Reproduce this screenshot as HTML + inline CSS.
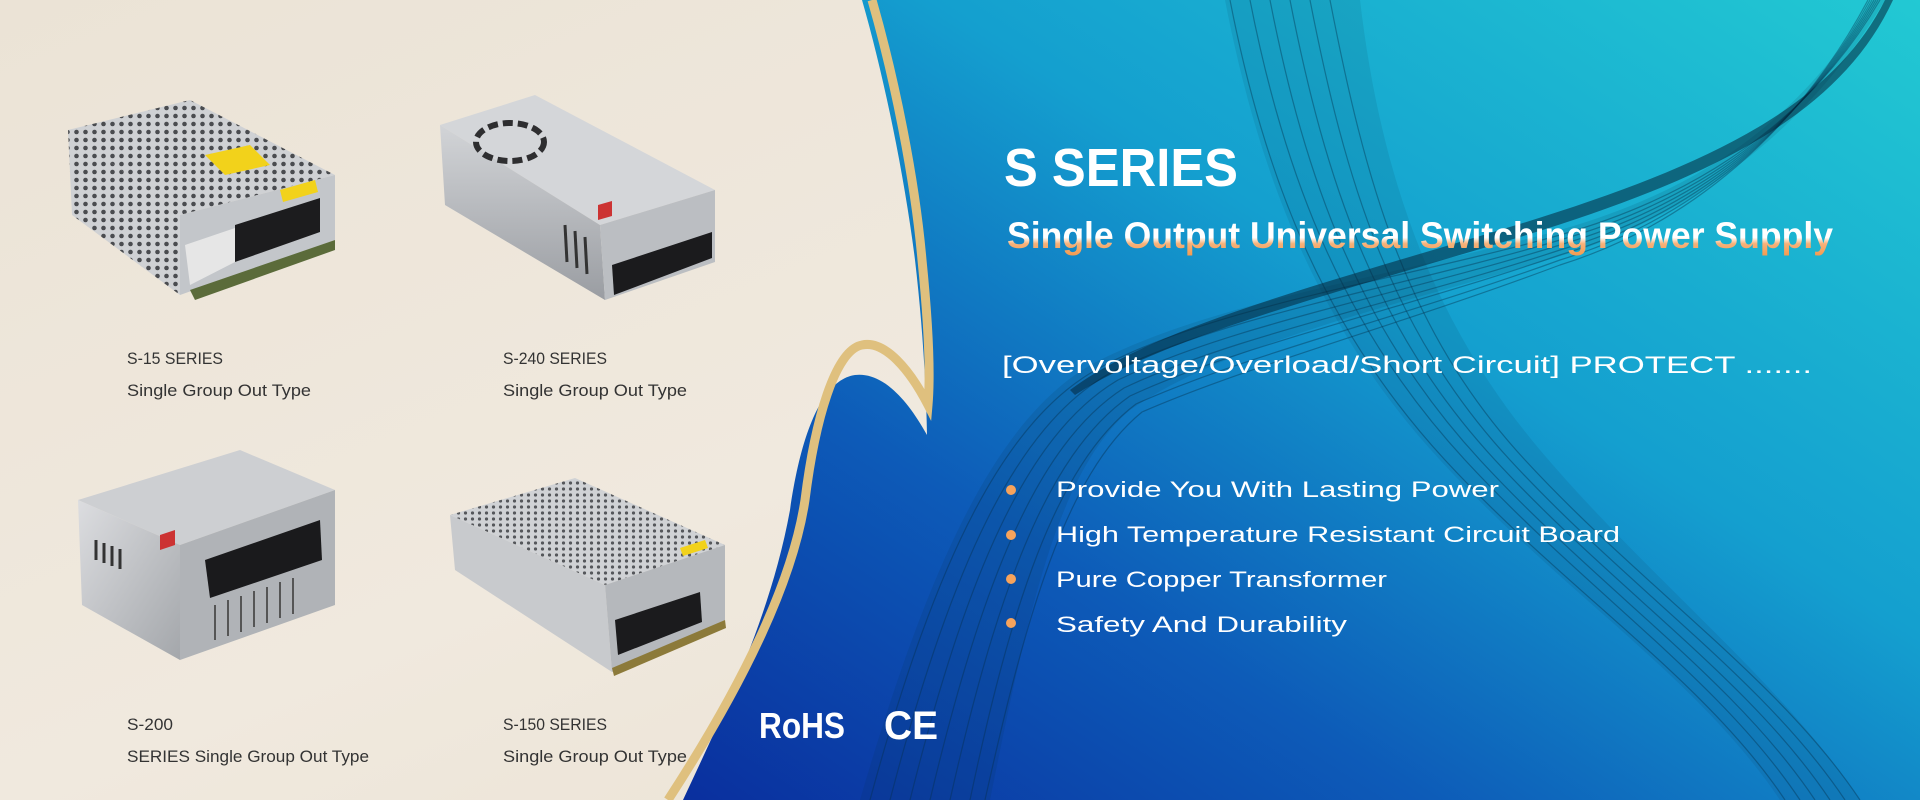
<!DOCTYPE html>
<html><head><meta charset="utf-8"><style>
html,body{margin:0;padding:0;width:1920px;height:800px;overflow:hidden;background:#ece4d6}
svg{display:block}
</style></head><body>
<svg width="1920" height="800" viewBox="0 0 1920 800" xmlns="http://www.w3.org/2000/svg">
<defs>
<linearGradient id="cream" x1="0" y1="0" x2="1" y2="1">
<stop offset="0" stop-color="#ebe3d6"/><stop offset="0.5" stop-color="#f0e9de"/><stop offset="1" stop-color="#e8dfcf"/>
</linearGradient>
<linearGradient id="blue" x1="0" y1="1" x2="1" y2="0">
<stop offset="0" stop-color="#0a2f9e"/><stop offset="0.3" stop-color="#0d5bb8"/><stop offset="0.6" stop-color="#149fcf"/><stop offset="1" stop-color="#22c9d3"/>
</linearGradient>
<linearGradient id="sub" x1="0" y1="0" x2="0" y2="1">
<stop offset="0" stop-color="#ffffff"/><stop offset="0.55" stop-color="#ffffff"/><stop offset="0.7" stop-color="#f7b27a"/><stop offset="1" stop-color="#f39a4e"/>
</linearGradient>
<linearGradient id="metal" x1="0" y1="0" x2="1" y2="1">
<stop offset="0" stop-color="#dcdde0"/><stop offset="1" stop-color="#a4a7ab"/>
</linearGradient>
<linearGradient id="metal2" x1="0" y1="0" x2="0" y2="1">
<stop offset="0" stop-color="#d2d4d7"/><stop offset="1" stop-color="#9a9da2"/>
</linearGradient>
<pattern id="holes" width="9" height="8" patternUnits="userSpaceOnUse">
<rect width="9" height="8" fill="#cfd1d4"/><circle cx="4.5" cy="4" r="2.3" fill="#4a4c50"/>
</pattern>
<pattern id="holes2" width="7" height="6" patternUnits="userSpaceOnUse">
<rect width="7" height="6" fill="#d0d2d5"/><circle cx="3.5" cy="3" r="1.6" fill="#55575b"/>
</pattern>
</defs>

<rect width="1920" height="800" fill="url(#cream)"/>

<!-- blue region -->
<path d="M862,0 C885,80 905,180 915,260 C922,320 926,380 927,435 C905,395 880,372 855,375 C820,380 800,440 790,510 C770,620 720,720 683,800 L1920,800 L1920,0 Z" fill="url(#blue)"/>

<!-- wave bands -->
<path d="M1873,0 C1800,120 1700,190 1560,230 C1400,275 1220,300 1100,360 C1000,410 930,560 860,800 L990,800 C1030,600 1060,470 1130,410 C1230,340 1420,300 1580,250 C1720,200 1820,110 1885,0 Z" fill="#06304a" fill-opacity="0.12"/>
<path d="M1225,0 C1260,180 1320,330 1440,460 C1560,590 1700,680 1780,800 L1860,800 C1780,680 1650,580 1540,450 C1430,320 1380,170 1360,0 Z" fill="#06304a" fill-opacity="0.1"/>
<g fill="none" stroke="#06304a" stroke-opacity="0.4" stroke-width="1.2">
<path d="M1880,0 C1810,120 1700,195 1560,235 C1400,280 1220,305 1105,365 C1005,415 935,560 870,800"/>
<path d="M1878,0 C1808,122 1698,200 1560,240 C1400,288 1225,315 1112,372 C1015,425 950,570 890,800"/>
<path d="M1876,0 C1806,124 1696,205 1560,245 C1400,295 1230,325 1118,380 C1025,435 965,580 910,800"/>
<path d="M1874,0 C1804,126 1694,210 1560,250 C1400,303 1235,335 1124,388 C1035,445 980,590 930,800"/>
<path d="M1872,0 C1802,128 1692,215 1560,255 C1400,310 1240,345 1130,396 C1045,455 995,600 950,800"/>
<path d="M1870,0 C1800,130 1690,220 1560,260 C1400,318 1245,355 1136,404 C1055,465 1010,610 970,800"/>
<path d="M1868,0 C1798,132 1688,225 1560,265 C1400,325 1250,365 1142,412 C1065,475 1025,620 985,800"/>
<path d="M1230,0 C1265,180 1325,330 1445,460 C1565,590 1705,680 1785,800"/>
<path d="M1250,0 C1285,180 1345,330 1465,460 C1585,590 1720,680 1800,800"/>
<path d="M1270,0 C1305,180 1360,330 1480,460 C1600,590 1735,680 1815,800"/>
<path d="M1290,0 C1325,180 1375,330 1495,460 C1615,590 1750,680 1830,800"/>
<path d="M1310,0 C1345,180 1390,330 1510,460 C1630,590 1765,680 1845,800"/>
<path d="M1330,0 C1365,180 1405,330 1525,460 C1645,590 1780,680 1860,800"/>
</g>
<path d="M1885,0 C1830,110 1700,170 1500,230 C1300,290 1150,330 1070,390 L1075,395 C1160,340 1310,300 1510,240 C1710,180 1840,115 1893,0 Z" fill="#04263a" fill-opacity="0.55"/>

<!-- gold ribbon -->
<path d="M872,0 C895,80 915,180 922,260 C928,320 931,370 928,405 C910,370 885,340 862,345 C835,350 815,420 805,500 C790,600 720,720 668,800" fill="none" stroke="#dfc07e" stroke-width="9"/>

<!-- Right texts -->
<text x="1004" y="186" font-family="Liberation Sans, sans-serif" font-weight="bold" font-size="54" fill="#fff" textLength="234" lengthAdjust="spacingAndGlyphs">S SERIES</text>
<text x="1007" y="248" font-family="Liberation Sans, sans-serif" font-weight="bold" font-size="37" fill="url(#sub)" textLength="826" lengthAdjust="spacingAndGlyphs">Single Output Universal Switching Power Supply</text>
<text x="1002" y="373" font-family="Liberation Sans, sans-serif" font-size="24" fill="#fff" textLength="810" lengthAdjust="spacingAndGlyphs">[Overvoltage/Overload/Short Circuit] PROTECT .......</text>

<g fill="#f6a35c">
<circle cx="1011" cy="490" r="5"/><circle cx="1011" cy="535" r="5"/><circle cx="1011" cy="579" r="5"/><circle cx="1011" cy="623" r="5"/>
</g>
<g font-family="Liberation Sans, sans-serif" font-size="22" fill="#fff">
<text x="1056" y="497" textLength="443" lengthAdjust="spacingAndGlyphs">Provide You With Lasting Power</text>
<text x="1056" y="542" textLength="564" lengthAdjust="spacingAndGlyphs">High Temperature Resistant Circuit Board</text>
<text x="1056" y="587" textLength="331" lengthAdjust="spacingAndGlyphs">Pure Copper Transformer</text>
<text x="1056" y="632" textLength="291" lengthAdjust="spacingAndGlyphs">Safety And Durability</text>
</g>

<text x="759" y="738" font-family="Liberation Sans, sans-serif" font-weight="bold" font-size="36" fill="#fff" textLength="86" lengthAdjust="spacingAndGlyphs">RoHS</text>
<text x="884" y="739" font-family="Liberation Sans, sans-serif" font-weight="bold" font-size="40" fill="#fff" textLength="54" lengthAdjust="spacingAndGlyphs">CE</text>

<!-- Left labels -->
<g font-family="Liberation Sans, sans-serif" font-size="17" fill="#333">
<text x="127" y="364" textLength="96" lengthAdjust="spacingAndGlyphs">S-15 SERIES</text>
<text x="127" y="396" textLength="184" lengthAdjust="spacingAndGlyphs">Single Group Out Type</text>
<text x="503" y="364" textLength="104" lengthAdjust="spacingAndGlyphs">S-240 SERIES</text>
<text x="503" y="396" textLength="184" lengthAdjust="spacingAndGlyphs">Single Group Out Type</text>
<text x="127" y="730" textLength="46" lengthAdjust="spacingAndGlyphs">S-200</text>
<text x="127" y="762" textLength="242" lengthAdjust="spacingAndGlyphs">SERIES Single Group Out Type</text>
<text x="503" y="730" textLength="104" lengthAdjust="spacingAndGlyphs">S-150 SERIES</text>
<text x="503" y="762" textLength="184" lengthAdjust="spacingAndGlyphs">Single Group Out Type</text>
</g>

<!-- S-15 product -->
<g>
<polygon points="68,130 190,100 335,175 180,215" fill="url(#holes)"/>
<polygon points="68,130 180,215 180,295 72,215" fill="url(#holes)"/>
<polygon points="180,215 335,175 335,240 180,295" fill="#c3c6ca"/>
<polygon points="235,225 320,198 320,232 235,262" fill="#1c1c1e"/>
<polygon points="185,245 235,228 235,262 190,285" fill="#e6e6e6"/>
<polygon points="205,155 250,145 270,165 225,175" fill="#f2d21b"/>
<polygon points="280,190 315,180 318,192 283,202" fill="#f2d21b"/>
<polygon points="190,290 335,240 335,250 195,300" fill="#5b6b3a"/>
</g>

<!-- S-240 product -->
<g>
<polygon points="440,125 535,95 715,190 600,225" fill="#d4d6d9"/>
<polygon points="440,125 600,225 605,300 445,205" fill="url(#metal2)"/>
<polygon points="600,225 715,190 715,262 605,300" fill="#bbbec2"/>
<polygon points="612,265 712,232 712,258 614,295" fill="#1b1b1d"/>
<ellipse cx="510" cy="142" rx="34" ry="19" fill="none" stroke="#2e2e30" stroke-width="6" stroke-dasharray="10 5"/>
<polygon points="598,205 612,201 612,216 598,220" fill="#c33"/>
<g stroke="#333" stroke-width="3"><line x1="565" y1="225" x2="567" y2="262"/><line x1="575" y1="231" x2="577" y2="268"/><line x1="585" y1="237" x2="587" y2="274"/></g>
</g>

<!-- S-200 product -->
<g>
<polygon points="78,500 240,450 335,490 180,545" fill="#cdcfd2"/>
<polygon points="78,500 180,545 180,660 82,605" fill="url(#metal)"/>
<polygon points="180,545 335,490 335,605 180,660" fill="#b0b3b7"/>
<polygon points="205,560 320,520 322,560 210,598" fill="#1a1a1c"/>
<polygon points="160,535 175,530 175,545 160,550" fill="#c33"/>
<g stroke="#333" stroke-width="3"><line x1="96" y1="540" x2="96" y2="560"/><line x1="104" y1="543" x2="104" y2="563"/><line x1="112" y1="546" x2="112" y2="566"/><line x1="120" y1="549" x2="120" y2="569"/></g>
<g stroke="#555" stroke-width="2"><line x1="215" y1="605" x2="215" y2="640"/><line x1="228" y1="600" x2="228" y2="636"/><line x1="241" y1="596" x2="241" y2="632"/><line x1="254" y1="591" x2="254" y2="627"/><line x1="267" y1="587" x2="267" y2="623"/><line x1="280" y1="582" x2="280" y2="618"/><line x1="293" y1="578" x2="293" y2="614"/></g>
</g>

<!-- S-150 product -->
<g>
<polygon points="450,515 575,478 725,545 605,585" fill="url(#holes2)"/>
<polygon points="450,515 605,585 612,672 455,570" fill="#c8cacd"/>
<polygon points="605,585 725,545 725,620 612,672" fill="#b5b8bc"/>
<polygon points="615,620 700,592 702,622 618,655" fill="#1b1b1d"/>
<polygon points="680,548 705,540 708,548 683,556" fill="#f2d21b"/>
<polygon points="612,668 725,620 726,628 614,676" fill="#8c7a3a"/>
</g>
</svg>
</body></html>
